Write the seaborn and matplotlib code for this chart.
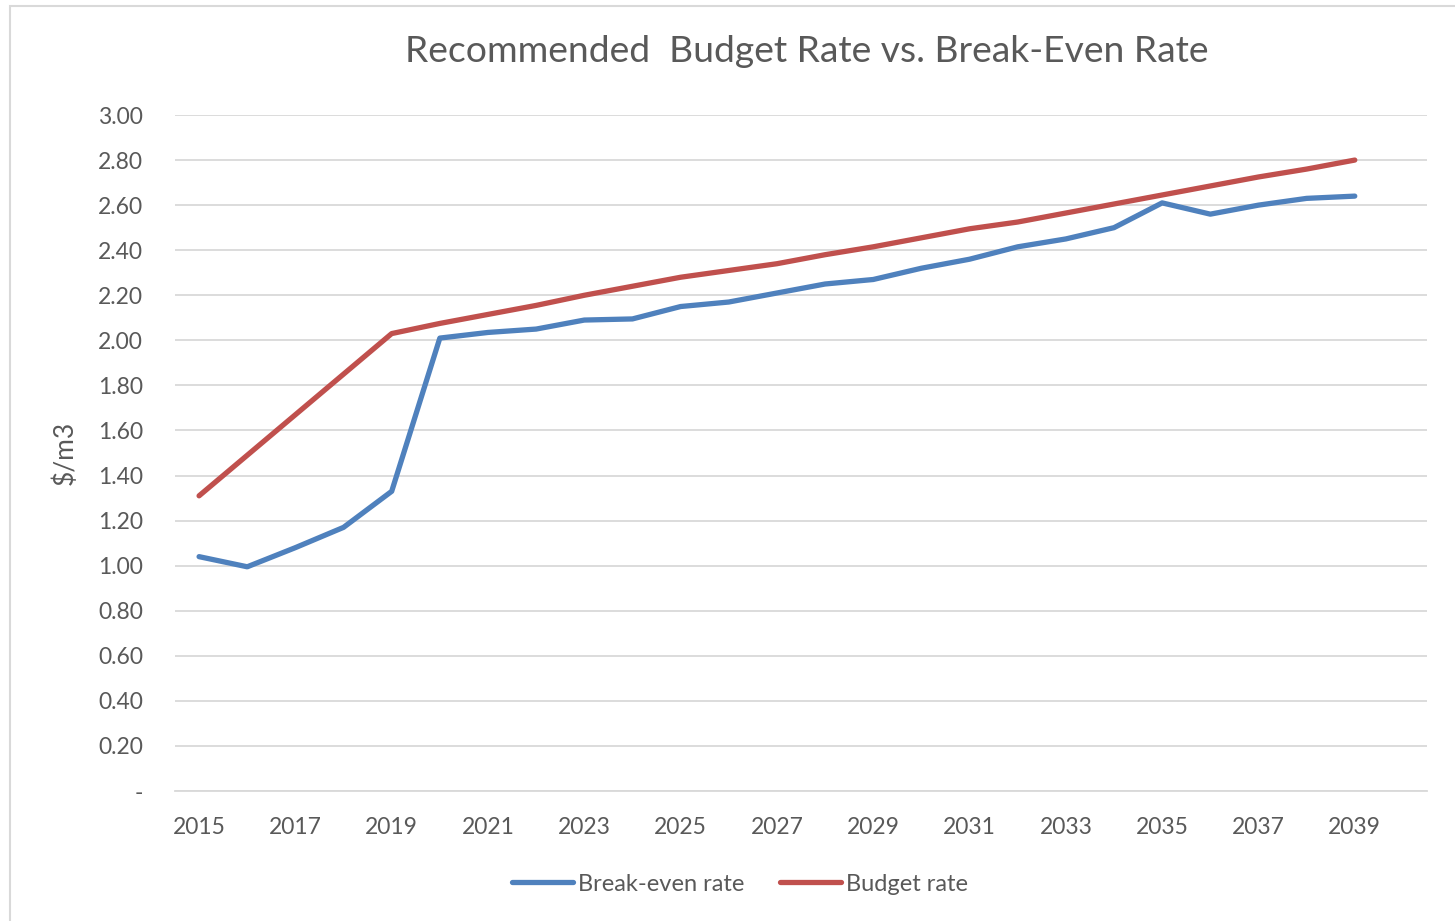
import matplotlib.pyplot as plt
from matplotlib.patches import Rectangle
import pandas as pd
import seaborn as sns

years = list(range(2015, 2040))
break_even = [1.04, 0.995, 1.08, 1.17, 1.33, 2.01, 2.035, 2.05, 2.09, 2.095,
              2.15, 2.17, 2.21, 2.25, 2.27, 2.32, 2.36, 2.415, 2.45, 2.50,
              2.61, 2.56, 2.60, 2.63, 2.64]
budget = [1.31, 1.49, 1.67, 1.85, 2.03, 2.075, 2.115, 2.155, 2.20, 2.24,
          2.28, 2.31, 2.34, 2.38, 2.415, 2.455, 2.495, 2.525, 2.565, 2.605,
          2.645, 2.685, 2.725, 2.76, 2.80]
series_names = ["Break-even rate", "Budget rate"]
yticks = [0, 0.2, 0.4, 0.6, 0.8, 1.0, 1.2, 1.4, 1.6, 1.8, 2.0, 2.2, 2.4, 2.6, 2.8, 3.0]
xticks = list(range(2015, 2040, 2))

TEXT = "#595959"
GRID = "#d9d9d9"

df = pd.DataFrame({
    "year": years * 2,
    "rate": break_even + budget,
    "series": [series_names[0]] * len(years) + [series_names[1]] * len(years),
})

sns.set_theme(style="white")
plt.rcParams['font.family'] = ['Lato', 'DejaVu Sans']

fig = plt.figure(figsize=(14.55, 9.21), dpi=100)
ax = fig.add_axes([175 / 1455, 1 - 791 / 921, 1252 / 1455, 676 / 921])

# light chart-area border
fig.patches.append(Rectangle((10 / 1455, -0.01), 1.0, 1 - 6 / 921 + 0.01,
                             transform=fig.transFigure, fill=False,
                             edgecolor="#d9d9d9", linewidth=1.5))

sns.lineplot(data=df, x="year", y="rate", hue="series", ax=ax,
             palette=["#4F81BD", "#C0504D"], linewidth=3.8,
             solid_capstyle="round")

ax.set_xlim(2014.5, 2040.5)
ax.set_ylim(0, 3.0)
ax.set_yticks(yticks)
ax.set_yticklabels(["-" if v == 0 else f"{v:.2f}" for v in yticks])
ax.set_xticks(xticks)
ax.set_xticklabels([str(y) for y in xticks])
ax.grid(axis="y", color=GRID, linewidth=1.3)
ax.set_axisbelow(True)
for s in ["top", "right", "left"]:
    ax.spines[s].set_visible(False)
ax.spines["bottom"].set_color(GRID)
ax.spines["bottom"].set_linewidth(1.3)
ax.tick_params(axis="y", length=0, pad=23, labelsize=16.5, labelcolor=TEXT)
ax.tick_params(axis="x", length=0, pad=19, labelsize=16.5, labelcolor=TEXT)

ax.set_xlabel("")
ax.set_ylabel(r"\$/m3", fontsize=19, color=TEXT)
ax.yaxis.set_label_coords(-0.078, 0.5)

fig.text(807 / 1455, 1 - 51 / 921, "Recommended  Budget Rate vs. Break-Even Rate",
         ha="center", va="center", fontsize=26.8, color=TEXT)

sns.move_legend(ax, "center", bbox_to_anchor=(740 / 1455, 1 - 884 / 921),
                bbox_transform=fig.transFigure, ncol=2, frameon=False,
                title=None, fontsize=17, handlelength=2.6,
                handletextpad=0.2, columnspacing=1.5)
for t in ax.get_legend().get_texts():
    t.set_color(TEXT)

fig.savefig("out.png", dpi=100)
